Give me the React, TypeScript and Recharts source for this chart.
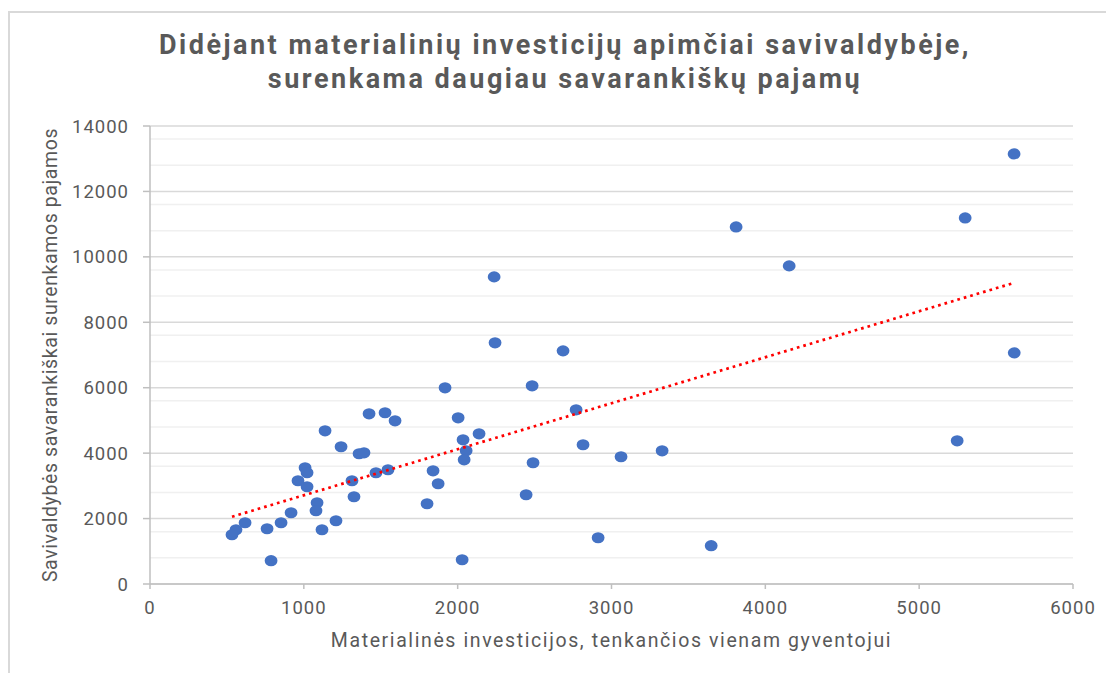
import React from 'react';
import { ScatterChart, Scatter, XAxis, YAxis, CartesianGrid } from 'recharts';

// investicijos vienam gyventojui (x) ir savarankiškos pajamos (y)
const investment = [
  5617, 5299, 3810, 4155, 2237, 2243, 2685, 5618, 1918, 2484,
  1424, 1528, 1593, 2003, 2770, 1138, 2139, 2035, 1242, 2815,
  5247, 3329, 1359, 1391, 2055, 3062, 2042, 1008, 1021, 2490,
  1469, 1547, 1840, 962, 1021, 1313, 1873, 1326, 2445, 1086,
  1079, 917, 1801, 618, 852, 1209, 761, 559, 533, 1118,
  2913, 3648, 787, 2029,
];
const revenue = [
  13146, 11190, 10915, 9724, 9388, 7372, 7127, 7066, 5997, 6058,
  5203, 5234, 4989, 5080, 5325, 4683, 4592, 4408, 4195, 4256,
  4378, 4072, 3981, 4011, 4072, 3889, 3797, 3553, 3400, 3706,
  3400, 3492, 3461, 3156, 2972, 3156, 3064, 2667, 2728, 2484,
  2239, 2178, 2453, 1873, 1873, 1934, 1689, 1659, 1506, 1659,
  1414, 1170, 712, 742,
];

// tiesinė tendencija (galiniai taškai nuskaityti nuo paveikslo)
const trendX = [533, 5617];
const trendY = [2056, 9205];

const xTicks = [0, 1000, 2000, 3000, 4000, 5000, 6000];
const yTicks = [0, 2000, 4000, 6000, 8000, 10000, 12000, 14000];
const yMinor = [
  400, 800, 1200, 1600, 2400, 2800, 3200, 3600, 4400, 4800, 5200, 5600,
  6400, 6800, 7200, 7600, 8400, 8800, 9200, 9600, 10400, 10800, 11200, 11600,
  12400, 12800, 13200, 13600,
];

const points = investment.map((x, i) => ({ x, y: revenue[i] }));
const trend = trendX.map((x, i) => ({ x, y: trendY[i] }));

const grey = '#595959';
const font = 'Roboto, "Noto Sans", sans-serif';

const Dot = (props: any) => {
  const { cx, cy } = props;
  if (cx == null || cy == null) return <g />;
  return <ellipse cx={cx} cy={cy} rx={6.4} ry={5.6} fill="#4472C4" />;
};

export default function App() {
  return (
    <div
      style={{
        position: 'relative',
        top: 3,
        width: 1110,
        height: 664,
        borderTop: '2px solid #d9d9d9',
        borderLeft: '2px solid #d9d9d9',
        fontFamily: font,
      }}
    >
      <div
        style={{
          position: 'absolute',
          top: 15,
          left: 0,
          width: 1110,
          textAlign: 'center',
          fontSize: 27,
          lineHeight: '34px',
          fontWeight: 700,
          letterSpacing: 2.5,
          color: grey,
        }}
      >
        Didėjant materialinių investicijų apimčiai savivaldybėje,
        <br />
        surenkama daugiau savarankiškų pajamų
      </div>
      <ScatterChart width={1104} height={660} margin={{ top: 113, right: 41, bottom: 29, left: 0 }}>
        <CartesianGrid horizontal vertical={false} horizontalValues={yMinor} stroke="#f0f0f0" strokeWidth={1.5} />
        <CartesianGrid horizontal vertical={false} horizontalValues={yTicks} stroke="#d9d9d9" strokeWidth={1.5} />
        <XAxis
          type="number"
          dataKey="x"
          domain={[0, 6000]}
          ticks={xTicks}
          height={60}
          stroke="#bfbfbf"
          strokeWidth={1.5}
          tickSize={5}
          tickMargin={12}
          tick={{ fill: grey, fontSize: 18.5, fontFamily: font, letterSpacing: 1 }}
          label={{
            content: (p: any) => {
              const vb = p.viewBox;
              return (
                <text
                  x={vb.x + vb.width / 2}
                  y={vb.y + 62.7}
                  textAnchor="middle"
                  fill={grey}
                  fontSize={19.5}
                  fontFamily={font}
                  letterSpacing={1.6}
                >
                  Materialinės investicijos, tenkančios vienam gyventojui
                </text>
              );
            },
          }}
        />
        <YAxis
          type="number"
          dataKey="y"
          domain={[0, 14000]}
          ticks={yTicks}
          width={140}
          stroke="#bfbfbf"
          strokeWidth={1.5}
          tickSize={7}
          tickMargin={14}
          tick={{ fill: grey, fontSize: 18.5, fontFamily: font, letterSpacing: 1 }}
          label={{
            content: (p: any) => {
              const vb = p.viewBox;
              const cx = vb.x + 40;
              const cy = vb.y + vb.height / 2;
              return (
                <text
                  x={cx}
                  y={cy}
                  dy="0.35em"
                  textAnchor="middle"
                  transform={`rotate(-90 ${cx} ${cy})`}
                  fill={grey}
                  fontSize={19.5}
                  fontFamily={font}
                  letterSpacing={0.6}
                >
                  Savivaldybės savarankiškai surenkamos pajamos
                </text>
              );
            },
          }}
        />
        <Scatter data={points} shape={Dot} isAnimationActive={false} />
        <Scatter
          data={trend}
          shape={() => <g />}
          line={{ stroke: '#ff0000', strokeWidth: 2.7, strokeDasharray: '2.7 4', strokeLinecap: 'butt' }}
          isAnimationActive={false}
        />
      </ScatterChart>
    </div>
  );
}
